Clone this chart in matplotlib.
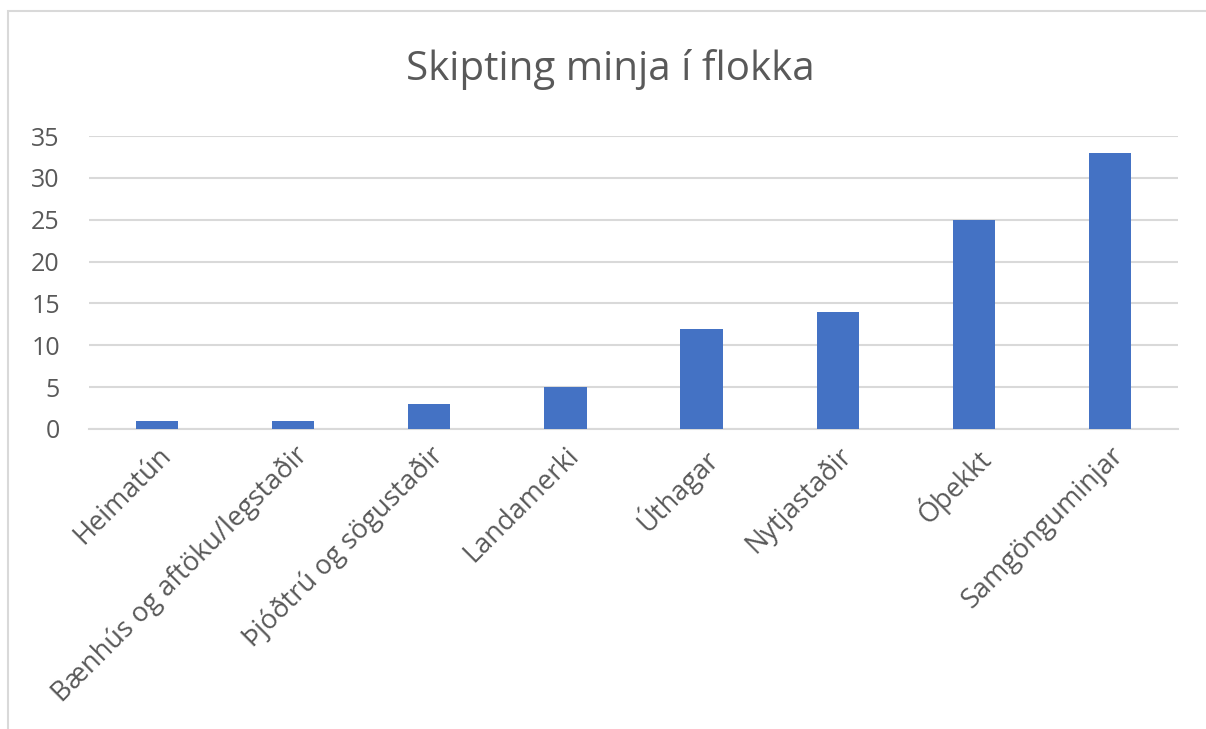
import numpy as np
import matplotlib.pyplot as plt
from matplotlib.patches import Rectangle

categories = ["Heimatún", "Bænhús og aftöku/legstaðir", "Þjóðtrú og sögustaðir",
              "Landamerki", "Úthagar", "Nytjastaðir", "Óþekkt", "Samgönguminjar"]
values = [1, 1, 3, 5, 12, 14, 25, 33]
yticks = [0, 5, 10, 15, 20, 25, 30, 35]

plt.rcParams['font.family'] = ['Open Sans', 'DejaVu Sans']
text_color = "#595959"
grid_color = "#D9D9D9"

fig = plt.figure(figsize=(12.06, 7.29), dpi=100)
W, H = 1206, 729
ax = fig.add_axes([89 / W, 1 - 429 / H, (1178 - 89) / W, (429 - 136) / H])

x = np.arange(len(categories))
ax.bar(x, values, width=0.31, color="#4472C4", zorder=3)
ax.set_xlim(-0.5, len(categories) - 0.5)
ax.set_ylim(0, 35)
ax.set_yticks(yticks)
ax.set_yticklabels([str(v) for v in yticks], fontsize=18, color=text_color)
ax.yaxis.grid(True, color=grid_color, linewidth=1.5, zorder=0)
ax.set_xticks(x)
ax.set_xticklabels(categories, rotation=45, ha="right", rotation_mode="anchor",
                   fontsize=19.5, color=text_color)
ax.tick_params(axis="both", length=0)
ax.tick_params(axis="y", pad=21)
ax.tick_params(axis="x", pad=9)
for side in ["top", "right", "left"]:
    ax.spines[side].set_visible(False)
ax.spines["bottom"].set_color(grid_color)
ax.spines["bottom"].set_linewidth(1.5)

fig.text(0.506, 1 - 70 / H, "Skipting minja í flokka", ha="center", va="center",
         fontsize=29, color=text_color)

# chart border (left and top edges visible)
fig.patches.append(Rectangle((8 / W, -0.1), 1.2, 1 - 11 / H + 0.1, transform=fig.transFigure,
                             fill=False, edgecolor=grid_color, linewidth=1.5))

fig.savefig("out.png", dpi=100)
